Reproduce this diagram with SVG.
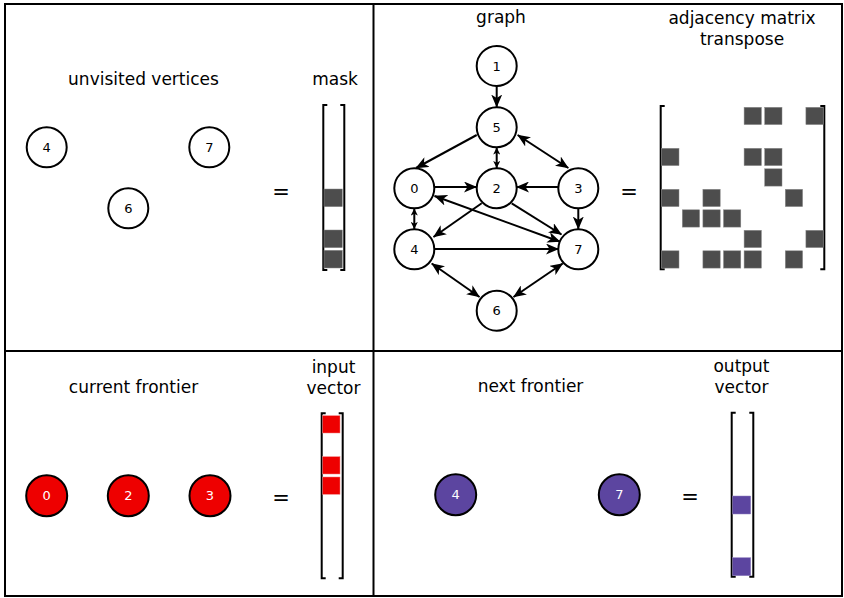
<svg xmlns="http://www.w3.org/2000/svg" width="844" height="598" viewBox="0 0 844 598">
<defs>
<style>
text{font-family:"DejaVu Sans","Liberation Sans",sans-serif;fill:#000}
.h{font-size:17px;text-anchor:middle}
.eq{font-size:21px;text-anchor:middle}
.n circle{fill:#fff;stroke:#000;stroke-width:2}
.n text{font-size:13px;text-anchor:middle}
.red circle{fill:#ee0000;stroke:#000;stroke-width:2}
.pur circle{fill:#5c45a0;stroke:#000;stroke-width:2}
.red text,.pur text{fill:#fff;font-size:13px;text-anchor:middle}
.e{stroke:#000;stroke-width:2;fill:none;marker-end:url(#ah)}
.d{marker-start:url(#ah)}
.s{stroke:#000;stroke-width:2;fill:none;marker-end:url(#sh);marker-start:url(#sh)}
.br{stroke:#000;stroke-width:2;fill:none}
.g{fill:#4d4d4d;stroke:#8a8a8a;stroke-width:0.5}
.r{fill:#ee0000;stroke:#f28080;stroke-width:0.5}
.p{fill:#5c45a0;stroke:#9080c0;stroke-width:0.5}
</style>
<marker id="ah" viewBox="0 0 13 11" refX="12.5" refY="5.5" markerWidth="13" markerHeight="11" markerUnits="userSpaceOnUse" orient="auto-start-reverse">
<path d="M0,0 L13,5.5 L0,11 L3.5,5.5 z" fill="#000"/>
</marker>
<marker id="sh" viewBox="0 0 7 7" refX="7" refY="3.5" markerWidth="7" markerHeight="7" markerUnits="userSpaceOnUse" orient="auto-start-reverse">
<path d="M0,0 L7,3.5 L0,7 L1.8,3.5 z" fill="#000"/>
</marker>
</defs>
<rect x="0" y="0" width="844" height="598" fill="#fff"/>
<g id="frame">
<rect x="5" y="4" width="837" height="592" fill="none" stroke="#000" stroke-width="2"/>
<line x1="373.5" y1="4" x2="373.5" y2="596" stroke="#000" stroke-width="2"/>
<line x1="5" y1="351" x2="842" y2="351" stroke="#000" stroke-width="2"/>
</g>
<g id="labels">
<text class="h" x="143.5" y="85">unvisited vertices</text>
<text class="h" x="335" y="85">mask</text>
<text class="h" x="501" y="23">graph</text>
<text class="h" x="742" y="24">adjacency matrix</text>
<text class="h" x="742" y="45">transpose</text>
<text class="h" x="133.5" y="393">current frontier</text>
<text class="h" x="333.5" y="372.5">input</text>
<text class="h" x="333.5" y="394">vector</text>
<text class="h" x="530.5" y="392">next frontier</text>
<text class="h" x="741.5" y="371.5">output</text>
<text class="h" x="741.5" y="393">vector</text>
<text class="eq" x="281" y="199">=</text>
<text class="eq" x="629" y="199">=</text>
<text class="eq" x="281" y="505">=</text>
<text class="eq" x="690" y="504">=</text>
</g>
<g id="unvisited">
<g id="u4" class="n"><circle cx="46.7" cy="147.3" r="20"/><text x="46.7" y="152">4</text></g>
<g id="u7" class="n"><circle cx="209.3" cy="147.3" r="20"/><text x="209.3" y="152">7</text></g>
<g id="u6" class="n"><circle cx="128.3" cy="208.3" r="20"/><text x="128.3" y="213">6</text></g>
</g>
<g id="mask">
<path class="br" d="M327.3,105 H323.3 V270 H327.3 M340.3,105 H344.3 V270 H340.3"/>
<rect class="g" x="324" y="189" width="18.3" height="17.7"/>
<rect class="g" x="324" y="230" width="18.3" height="17.7"/>
<rect class="g" x="324" y="250.3" width="18.3" height="17.7"/>
</g>
<g id="connectors">
<line class="e" x1="496.7" y1="86" x2="496.7" y2="107"/>
<line class="e" x1="476.7" y1="135" x2="416" y2="168"/>
<line class="s" x1="496.7" y1="147.5" x2="496.7" y2="168"/>
<line class="e d" x1="517.7" y1="135" x2="568.3" y2="168"/>
<line class="e" x1="434.5" y1="187" x2="476.5" y2="187"/>
<line class="e" x1="558" y1="187" x2="516.5" y2="187"/>
<line class="e" x1="578.3" y1="208.5" x2="578.3" y2="229"/>
<line class="e" x1="481.7" y1="203.3" x2="433.5" y2="237"/>
<line class="e" x1="511.7" y1="203.3" x2="561.5" y2="234.5"/>
<line class="e d" x1="434.5" y1="196" x2="560" y2="241.7"/>
<line class="e" x1="434.5" y1="249" x2="558.5" y2="249"/>
<line class="s" x1="414.3" y1="208.5" x2="414.3" y2="229"/>
<line class="e d" x1="431.7" y1="263.5" x2="479.5" y2="297"/>
<line class="e d" x1="562.7" y1="263.5" x2="513.5" y2="297"/>
</g>
<g id="graph">
<g id="v1" class="n"><circle cx="496.7" cy="66" r="20"/><text x="496.7" y="70.7">1</text></g>
<g id="v5" class="n"><circle cx="496.7" cy="127.3" r="20"/><text x="496.7" y="132">5</text></g>
<g id="v0" class="n"><circle cx="414.3" cy="188.3" r="20"/><text x="414.3" y="193">0</text></g>
<g id="v2" class="n"><circle cx="496.7" cy="188.3" r="20"/><text x="496.7" y="193">2</text></g>
<g id="v3" class="n"><circle cx="578.3" cy="188.3" r="20"/><text x="578.3" y="193">3</text></g>
<g id="v4" class="n"><circle cx="414.3" cy="249.3" r="20"/><text x="414.3" y="254">4</text></g>
<g id="v7" class="n"><circle cx="578.3" cy="249.3" r="20"/><text x="578.3" y="254">7</text></g>
<g id="v6" class="n"><circle cx="496.7" cy="310.7" r="20"/><text x="496.7" y="315.4">6</text></g>
</g>
<g id="matrix">
<path class="br" d="M664.7,106 H660.7 V269.3 H664.7 M820.3,106 H824.3 V269.3 H820.3"/>
<rect class="g" x="744.1" y="107.3" width="17.3" height="17.3"/>
<rect class="g" x="764.7" y="107.3" width="17.3" height="17.3"/>
<rect class="g" x="805.9" y="107.3" width="17.3" height="17.3"/>
<rect class="g" x="661.7" y="148.3" width="17.3" height="17.3"/>
<rect class="g" x="744.1" y="148.3" width="17.3" height="17.3"/>
<rect class="g" x="764.7" y="148.3" width="17.3" height="17.3"/>
<rect class="g" x="764.7" y="168.8" width="17.3" height="17.3"/>
<rect class="g" x="661.7" y="189.3" width="17.3" height="17.3"/>
<rect class="g" x="702.9" y="189.3" width="17.3" height="17.3"/>
<rect class="g" x="785.3" y="189.3" width="17.3" height="17.3"/>
<rect class="g" x="682.3" y="209.8" width="17.3" height="17.3"/>
<rect class="g" x="702.9" y="209.8" width="17.3" height="17.3"/>
<rect class="g" x="723.5" y="209.8" width="17.3" height="17.3"/>
<rect class="g" x="744.1" y="230.3" width="17.3" height="17.3"/>
<rect class="g" x="805.9" y="230.3" width="17.3" height="17.3"/>
<rect class="g" x="661.7" y="250.8" width="17.3" height="17.3"/>
<rect class="g" x="702.9" y="250.8" width="17.3" height="17.3"/>
<rect class="g" x="723.5" y="250.8" width="17.3" height="17.3"/>
<rect class="g" x="744.1" y="250.8" width="17.3" height="17.3"/>
<rect class="g" x="785.3" y="250.8" width="17.3" height="17.3"/>
</g>
<g id="frontier">
<g id="f0" class="red"><circle cx="46.7" cy="495.7" r="20.5"/><text x="46.7" y="500.4">0</text></g>
<g id="f2" class="red"><circle cx="128.3" cy="495.7" r="20.5"/><text x="128.3" y="500.4">2</text></g>
<g id="f3" class="red"><circle cx="210" cy="495.7" r="20.5"/><text x="210" y="500.4">3</text></g>
</g>
<g id="input">
<path class="br" d="M325.7,413.3 H321.7 V578.3 H325.7 M338.7,413.3 H342.7 V578.3 H338.7"/>
<rect class="r" x="322.7" y="415.7" width="17.3" height="17.3"/>
<rect class="r" x="322.7" y="456.7" width="17.3" height="17.3"/>
<rect class="r" x="322.7" y="477" width="17.3" height="17.3"/>
</g>
<g id="next">
<g id="n4" class="pur"><circle cx="455.7" cy="494.7" r="20.5"/><text x="455.7" y="499.4">4</text></g>
<g id="n7" class="pur"><circle cx="619.3" cy="494.7" r="20.5"/><text x="619.3" y="499.4">7</text></g>
</g>
<g id="output">
<path class="br" d="M735.7,412.7 H731.7 V576.7 H735.7 M749.3,412.7 H753.3 V576.7 H749.3"/>
<rect class="p" x="732.7" y="496" width="18" height="18"/>
<rect class="p" x="732.7" y="557.7" width="18" height="18"/>
</g>
</svg>
